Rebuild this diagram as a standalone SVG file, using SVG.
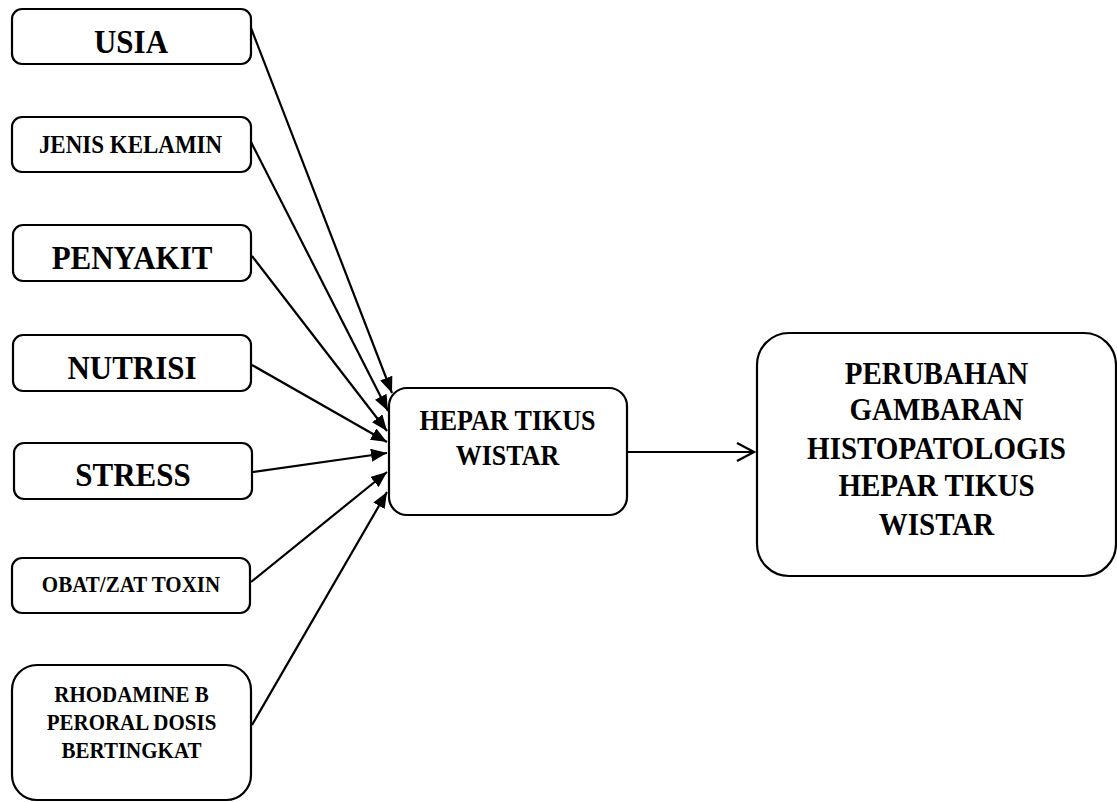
<svg xmlns="http://www.w3.org/2000/svg" width="1117" height="802" viewBox="0 0 1117 802">
<style>
.box{fill:#fff;stroke:#000;stroke-width:2.2}
.t{font-family:"Liberation Serif","Times New Roman",serif;font-weight:bold;fill:#000;text-anchor:middle}
.c{stroke:#000;stroke-width:2.2;fill:none}
</style>
<defs>
<marker id="fa" markerUnits="userSpaceOnUse" markerWidth="17" markerHeight="13" refX="16" refY="6.5" orient="auto"><path d="M0,0 L16,6.5 L0,13 z" fill="#000"/></marker>
<marker id="oa" markerUnits="userSpaceOnUse" markerWidth="20" markerHeight="22" refX="18" refY="10" orient="auto"><path d="M1,1 L18,10 L1,19" fill="none" stroke="#000" stroke-width="2.2"/></marker>
</defs>
<rect width="1117" height="802" fill="#fff"/>
<g id="connectors">
<line class="c" x1="251" y1="28" x2="392" y2="393" marker-end="url(#fa)"/>
<line class="c" x1="251" y1="142" x2="388" y2="411" marker-end="url(#fa)"/>
<line class="c" x1="252" y1="256" x2="387" y2="431" marker-end="url(#fa)"/>
<line class="c" x1="252" y1="365" x2="387" y2="442" marker-end="url(#fa)"/>
<line class="c" x1="253" y1="472" x2="387" y2="453" marker-end="url(#fa)"/>
<line class="c" x1="251" y1="582" x2="387" y2="472" marker-end="url(#fa)"/>
<line class="c" x1="252" y1="725" x2="387" y2="492" marker-end="url(#fa)"/>
<line class="c" x1="627" y1="452" x2="754" y2="452" marker-end="url(#oa)"/>
</g>
<g id="usia"><rect class="box" x="12" y="9" width="239" height="55" rx="10"/><text class="t" transform="matrix(1 0 0 1.1 131 52.5)" font-size="31">USIA</text></g>
<g id="jenis-kelamin"><rect class="box" x="12" y="117" width="239" height="55" rx="10"/><text class="t" transform="matrix(1 0 0 1.1 130.5 152.5)" font-size="23">JENIS KELAMIN</text></g>
<g id="penyakit"><rect class="box" x="13" y="225" width="238" height="56" rx="10"/><text class="t" transform="matrix(1 0 0 1.1 132 269)" font-size="31">PENYAKIT</text></g>
<g id="nutrisi"><rect class="box" x="13" y="335" width="238" height="56" rx="10"/><text class="t" transform="matrix(1 0 0 1.1 132 379)" font-size="31">NUTRISI</text></g>
<g id="stress"><rect class="box" x="14" y="443" width="238" height="56" rx="10"/><text class="t" transform="matrix(1 0 0 1.1 133 486)" font-size="31">STRESS</text></g>
<g id="obat"><rect class="box" x="12" y="558" width="238" height="55" rx="10"/><text class="t" transform="matrix(1 0 0 1.1 131 591.5)" font-size="21">OBAT/ZAT TOXIN</text></g>
<g id="rhodamine"><rect class="box" x="12" y="665" width="239" height="135" rx="25"/><text class="t" transform="matrix(1 0 0 1.1 131.5 701.5)" font-size="21"><tspan x="0" y="0">RHODAMINE B</tspan><tspan x="0" y="25.9">PERORAL DOSIS</tspan><tspan x="0" y="51.8">BERTINGKAT</tspan></text></g>
<g id="hepar"><rect class="box" x="389" y="388" width="238" height="127" rx="18"/><text class="t" transform="matrix(1 0 0 1.1 507.5 430)" font-size="26"><tspan x="0" y="0">HEPAR TIKUS</tspan><tspan x="0" y="31.8">WISTAR</tspan></text></g>
<g id="perubahan"><rect class="box" x="757" y="333" width="359" height="243" rx="32"/><text class="t" transform="matrix(1 0 0 1.1 936.5 383.5)" font-size="29"><tspan x="0" y="0">PERUBAHAN</tspan><tspan x="0" y="33.6">GAMBARAN</tspan><tspan x="0" y="68.2">HISTOPATOLOGIS</tspan><tspan x="0" y="102.7">HEPAR TIKUS</tspan><tspan x="0" y="137.3">WISTAR</tspan></text></g>
</svg>
